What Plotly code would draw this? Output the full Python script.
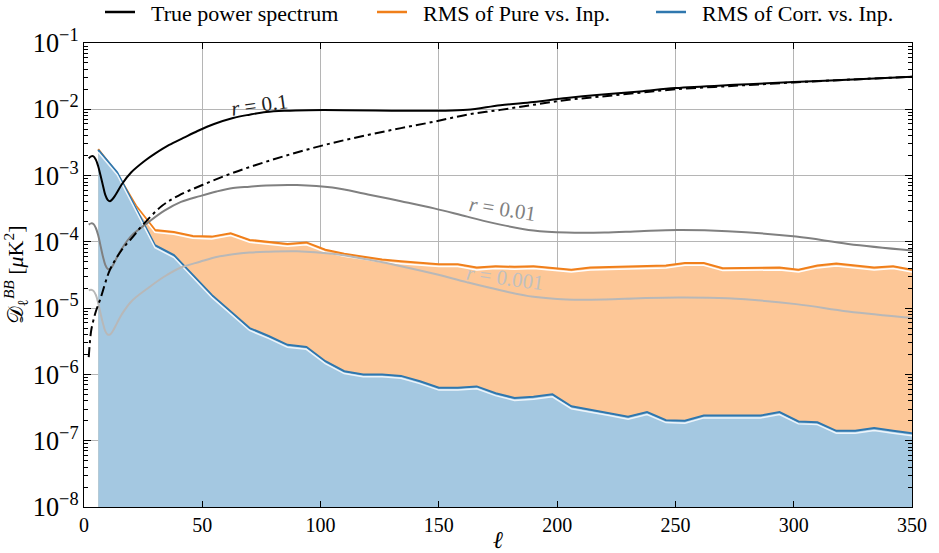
import plotly.graph_objects as go

# ---------------- data ----------------
ell_bins = [6, 14, 22, 30, 38, 46, 54, 62, 70, 78, 86, 94, 102, 110, 118, 126, 134, 142,
            150, 158, 166, 174, 182, 190, 198, 206, 214, 222, 230, 238, 246, 254, 262,
            270, 278, 286, 294, 302, 310, 318, 326, 334, 342, 350]

rms_pure = [2.5e-3, 1.07e-3, 3.5e-4, 1.51e-4, 1.41e-4, 1.23e-4, 1.2e-4, 1.35e-4, 1.07e-4,
            1.0e-4, 9.3e-5, 9.8e-5, 7.6e-5, 6.6e-5, 5.9e-5, 5.4e-5, 5.1e-5, 4.9e-5,
            4.6e-5, 4.6e-5, 4.1e-5, 4.3e-5, 4.2e-5, 4.3e-5, 4.0e-5, 3.8e-5, 4.1e-5,
            4.2e-5, 4.3e-5, 4.3e-5, 4.4e-5, 4.8e-5, 4.8e-5, 4.0e-5, 4.0e-5, 4.0e-5,
            4.1e-5, 3.8e-5, 4.4e-5, 4.7e-5, 4.4e-5, 4.1e-5, 4.3e-5, 3.8e-5]

rms_corr = [2.45e-3, 1.12e-3, 3.16e-4, 8.9e-5, 6.3e-5, 3.16e-5, 1.58e-5, 8.9e-6, 5.0e-6,
            3.8e-6, 2.8e-6, 2.6e-6, 1.58e-6, 1.12e-6, 1.0e-6, 1.0e-6, 9.5e-7, 7.9e-7,
            6.3e-7, 6.3e-7, 6.6e-7, 5.2e-7, 4.4e-7, 4.6e-7, 5.0e-7, 3.3e-7, 2.9e-7,
            2.6e-7, 2.3e-7, 2.7e-7, 2.04e-7, 2.0e-7, 2.4e-7, 2.4e-7, 2.4e-7, 2.4e-7,
            2.7e-7, 1.95e-7, 1.9e-7, 1.41e-7, 1.41e-7, 1.55e-7, 1.41e-7, 1.29e-7]

ell_r01 = [2, 3, 4, 5, 6, 7, 8, 9, 10, 11, 12, 13, 14, 16, 20, 26, 30, 36, 42, 48, 55, 63,
           70, 77, 85, 95, 110, 130, 150, 162, 176, 190, 204, 218, 235, 250, 275, 300,
           325, 350]
cl_r01 = [1.82e-3, 1.95e-3, 1.95e-3, 1.74e-3, 1.38e-3, 1.0e-3, 7.1e-4, 5.1e-4, 4.3e-4,
          4.1e-4, 4.4e-4, 4.9e-4, 5.6e-4, 7.4e-4, 1.12e-3, 1.7e-3, 2.14e-3, 2.9e-3,
          3.7e-3, 4.7e-3, 6.0e-3, 7.4e-3, 8.3e-3, 9.1e-3, 9.5e-3, 9.7e-3, 9.7e-3,
          9.5e-3, 9.5e-3, 9.8e-3, 1.15e-2, 1.29e-2, 1.48e-2, 1.66e-2, 1.86e-2, 2.09e-2,
          2.34e-2, 2.57e-2, 2.82e-2, 3.09e-2]

ell_lens = [2, 3, 4, 5, 7, 11, 16, 20, 25, 33, 40, 50, 63, 77, 91, 105, 120, 134, 148,
            162, 176, 190, 204, 218, 235, 250, 275, 300, 325, 350]
cl_lens = [1.82e-6, 4.5e-6, 6.6e-6, 8.9e-6, 1.41e-5, 3.8e-5, 7.6e-5, 1.12e-4, 1.82e-4,
           3.5e-4, 5.0e-4, 7.2e-4, 1.1e-3, 1.62e-3, 2.29e-3, 3.1e-3, 4.1e-3, 5.2e-3,
           6.5e-3, 8.3e-3, 9.8e-3, 1.17e-2, 1.38e-2, 1.55e-2, 1.78e-2, 2.0e-2, 2.26e-2,
           2.54e-2, 2.82e-2, 3.09e-2]

ell_tens = [2, 3, 4, 5, 6, 7, 8, 9, 10, 11, 12, 14, 16, 20, 27, 34, 41, 49, 56, 63, 70,
            77, 90, 105, 120, 134, 148, 162, 176, 190, 204, 220, 235, 251, 272, 301, 323,
            350]
cl_r001 = [1.82e-4, 1.9e-4, 1.86e-4, 1.62e-4, 1.26e-4, 8.7e-5, 6.0e-5, 4.5e-5, 3.9e-5,
           3.9e-5, 4.3e-5, 5.9e-5, 7.9e-5, 1.23e-4, 1.95e-4, 2.95e-4, 4.0e-4, 4.9e-4,
           5.75e-4, 6.5e-4, 6.8e-4, 7.1e-4, 7.2e-4, 6.6e-4, 5.2e-4, 4.1e-4, 3.2e-4,
           2.4e-4, 1.82e-4, 1.48e-4, 1.38e-4, 1.38e-4, 1.45e-4, 1.51e-4, 1.45e-4,
           1.2e-4, 9.3e-5, 7.4e-5]
cl_r0001 = [1.86e-5, 1.9e-5, 1.82e-5, 1.58e-5, 1.2e-5, 8.3e-6, 5.9e-6, 4.5e-6, 4.0e-6,
            4.0e-6, 4.4e-6, 6.0e-6, 8.1e-6, 1.26e-5, 2.0e-5, 3.0e-5, 4.1e-5, 5.0e-5,
            5.9e-5, 6.5e-5, 6.9e-5, 7.1e-5, 7.2e-5, 6.6e-5, 5.4e-5, 4.3e-5, 3.3e-5,
            2.45e-5, 1.86e-5, 1.48e-5, 1.35e-5, 1.35e-5, 1.41e-5, 1.45e-5, 1.41e-5,
            1.15e-5, 8.9e-6, 7.1e-6]

legend_names = ["True power spectrum", "RMS of Pure vs. Inp.", "RMS of Corr. vs. Inp."]
y_floor = 1e-8

# ---------------- styling ----------------
FONT = "Liberation Serif"
ORANGE = "#f07f1a"
BLUE = "#2f77ae"
ORANGE_FILL = "#fdc797"
BLUE_FILL = "#a4c8e1"
GRAY = "#808080"
LGRAY = "#b8b8b8"

YR = [-8, -1]
SHIFT = 0.036  # white shadow offset (in decades)

fig = go.Figure()

# orange fill + line (main axis)
fig.add_trace(go.Scatter(x=ell_bins + [ell_bins[-1], ell_bins[0]],
                         y=rms_pure + [y_floor, y_floor], fill="toself",
                         fillcolor=ORANGE_FILL, line=dict(width=0), mode="lines",
                         showlegend=False, hoverinfo="skip"))
fig.add_trace(go.Scatter(x=ell_bins, y=rms_pure, mode="lines",
                         line=dict(color=ORANGE, width=2), showlegend=False))
# orange white shadow (shifted axis)
fig.add_trace(go.Scatter(x=ell_bins, y=rms_pure, mode="lines", yaxis="y2",
                         line=dict(color="white", width=1.5), showlegend=False))
# blue fill + line
fig.add_trace(go.Scatter(x=ell_bins + [ell_bins[-1], ell_bins[0]],
                         y=rms_corr + [y_floor, y_floor], fill="toself", yaxis="y3",
                         fillcolor=BLUE_FILL, line=dict(width=0), mode="lines",
                         showlegend=False, hoverinfo="skip"))
fig.add_trace(go.Scatter(x=ell_bins, y=rms_corr, mode="lines", yaxis="y3",
                         line=dict(color=BLUE, width=2), showlegend=False))
fig.add_trace(go.Scatter(x=ell_bins, y=rms_corr, mode="lines", yaxis="y4",
                         line=dict(color="#eef5fb", width=1.5), showlegend=False))

# theory curves
fig.add_trace(go.Scatter(x=ell_tens, y=cl_r0001, mode="lines", yaxis="y5",
                         line=dict(color=LGRAY, width=2, shape="spline"), showlegend=False))
fig.add_trace(go.Scatter(x=ell_tens, y=cl_r001, mode="lines", yaxis="y5",
                         line=dict(color=GRAY, width=2, shape="spline"), showlegend=False))
fig.add_trace(go.Scatter(x=ell_lens, y=cl_lens, mode="lines", yaxis="y5",
                         line=dict(color="black", width=2, shape="spline",
                                   dash="10px,4px,3px,4px"), showlegend=False))
fig.add_trace(go.Scatter(x=ell_r01, y=cl_r01, mode="lines", yaxis="y5",
                         line=dict(color="black", width=2, shape="spline"), showlegend=False))

# legend-only traces, one legend each so that every entry can be placed exactly
legend_ids = ["legend", "legend2", "legend3"]
legend_x_px = [100, 372, 651]
for name, col, lid in zip(legend_names, ["black", ORANGE, BLUE], legend_ids):
    fig.add_trace(go.Scatter(x=[None], y=[None], mode="lines", name="\u2002" + name,
                             legend=lid, line=dict(color=col, width=2.5), yaxis="y5"))

# annotations
ann = [
    dict(x=74, y=-1.93, text="<i>r</i> = 0.1", color="#222222", angle=-8),
    dict(x=177, y=-3.50, text="<i>r</i> = 0.01", color=GRAY, angle=9),
    dict(x=178, y=-4.55, text="<i>r</i> = 0.001", color="#c0c0c0", angle=8),
]
for a in ann:
    fig.add_annotation(x=a["x"], y=a["y"], xref="x", yref="y", text=a["text"],
                       showarrow=False, textangle=a["angle"],
                       font=dict(family=FONT, size=21, color=a["color"]))

overlay = dict(type="log", overlaying="y", visible=False, showgrid=False)

legend_common = dict(orientation="h", xref="container", xanchor="left",
                     yref="container", y=0.978, yanchor="middle",
                     font=dict(family=FONT, size=22), bgcolor="rgba(0,0,0,0)")

fig.update_layout(
    width=939, height=553,
    margin=dict(l=84, r=27, t=43, b=46, autoexpand=False),
    paper_bgcolor="white", plot_bgcolor="white",
    font=dict(family=FONT, size=20, color="black"),
    showlegend=True,
    legend=dict(legend_common, x=legend_x_px[0] / 939),
    legend2=dict(legend_common, x=legend_x_px[1] / 939),
    legend3=dict(legend_common, x=legend_x_px[2] / 939),
    xaxis=dict(range=[0, 350], tick0=0, dtick=50, ticks="inside", ticklen=6,
               tickwidth=1.2, tickcolor="black", showline=True, linecolor="black",
               linewidth=1.3, mirror="ticks", showgrid=True, gridcolor="#b5b5b5",
               gridwidth=1, zeroline=False, tickfont=dict(size=20), automargin=False,
               title=dict(text="<i>ℓ</i>", font=dict(size=24), standoff=4)),
    yaxis=dict(type="log", range=YR, dtick=1, exponentformat="power", showexponent="all",
               ticks="inside", ticklen=7, tickwidth=1.2, tickcolor="black",
               minor=dict(ticks="inside", ticklen=3.5, tickcolor="black", dtick="D1",
                          showgrid=False),
               showline=True, linecolor="black", linewidth=1.3, mirror="allticks",
               showgrid=True, gridcolor="#b5b5b5", gridwidth=1, zeroline=False,
               tickfont=dict(size=21), automargin=False,
               title=dict(text="𝒟<sub>ℓ</sub><sup><i>BB</i></sup> [<i>μ</i>K<sup>2</sup>]",
                          font=dict(size=22), standoff=6)),
    yaxis2=dict(overlay, range=[YR[0] + SHIFT, YR[1] + SHIFT]),
    yaxis3=dict(overlay, range=YR),
    yaxis4=dict(overlay, range=[YR[0] + SHIFT, YR[1] + SHIFT]),
    yaxis5=dict(overlay, range=YR),
)

fig.write_html("out.html")
